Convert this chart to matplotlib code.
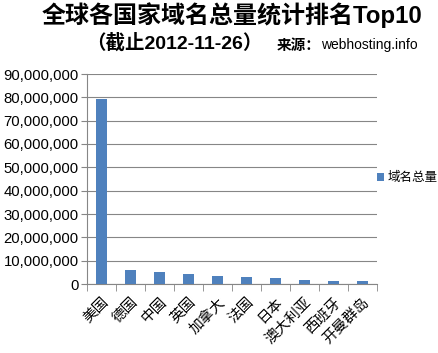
import matplotlib
matplotlib.use("Agg")
import matplotlib.pyplot as plt
from matplotlib.ticker import FuncFormatter, MultipleLocator
import numpy as np

plt.rcParams['font.family'] = ['Liberation Sans', 'Noto Sans CJK SC', 'DejaVu Sans']

countries = ["美国", "德国", "中国", "英国", "加拿大", "法国", "日本", "澳大利亚", "西班牙", "开曼群岛"]
values = [79300000, 6000000, 5100000, 4400000, 3400000, 3000000, 2600000, 1700000, 1400000, 1300000]
series_name = "域名总量"
title1 = "全球各国家域名总量统计排名Top10"
title2a = "（截止2012-11-26）"
title2b = "来源："
title2c = "webhosting.info"

bar_color = "#4F81BD"
grid_color = "#868686"

fig = plt.figure(figsize=(4.39, 3.53), dpi=100)
ax = fig.add_axes([87/439, 1-284/353, 290/439, 210/353])

x = np.arange(len(countries))
ax.bar(x, values, width=0.4, color=bar_color, zorder=3, label=series_name)

ax.set_xlim(-0.5, len(countries) - 0.5)
ax.set_ylim(0, 90000000)
ax.yaxis.set_major_locator(MultipleLocator(10000000))
ax.yaxis.set_major_formatter(FuncFormatter(lambda v, p: f"{int(v):,}"))
ax.grid(axis='y', color=grid_color, linewidth=0.8, zorder=0)

for s in ['top', 'right']:
    ax.spines[s].set_visible(False)
ax.spines['left'].set_color(grid_color)
ax.spines['bottom'].set_color(grid_color)

ax.tick_params(axis='y', length=4, color=grid_color, labelsize=10.7, pad=2)
ax.set_xticks(x)
ax.set_xticklabels(countries, rotation=45, ha='right', rotation_mode='anchor',
                   fontsize=10.5, family=['Noto Sans CJK SC'])
ax.tick_params(axis='x', length=0, pad=8)
ax.set_xticks(np.arange(-0.5, len(countries)), minor=True)
ax.tick_params(axis='x', which='minor', length=5, color=grid_color)

fig.text(231.5/439, 1 - 15/353, title1, ha='center', va='center', fontsize=17.3, fontweight='bold',
         family=['Liberation Sans', 'Noto Sans CJK SC'])
fig.text(86/439, 1 - 43/353, title2a, ha='left', va='center', fontsize=14, fontweight='bold',
         family=['Liberation Sans', 'Noto Sans CJK SC'])
fig.text(321/439, 1 - 45/353, title2b, ha='right', va='center', fontsize=10.5, fontweight='bold',
         family=['Noto Sans CJK SC'])
fig.text(418/439, 1 - 45/353, title2c, ha='right', va='center', fontsize=10,
         family=['Liberation Sans'])

fig.legend(loc='center left', bbox_to_anchor=(372/439, 1 - 178/353), frameon=False,
           handlelength=0.55, handleheight=0.55, handletextpad=0.3, borderaxespad=0,
           prop={'family': ['Noto Sans CJK SC'], 'size': 9})

fig.savefig("out.png", dpi=100)
